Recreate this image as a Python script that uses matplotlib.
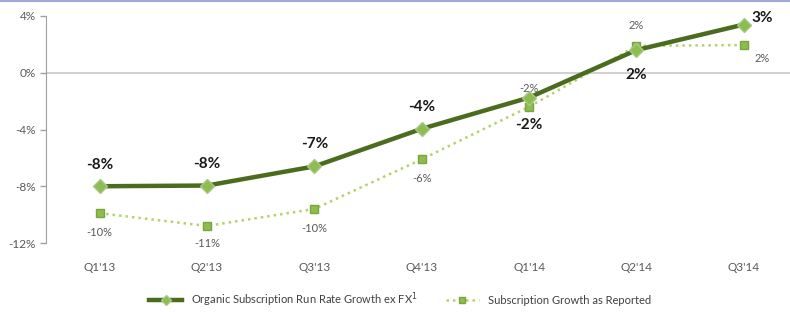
import matplotlib.pyplot as plt
from matplotlib.lines import Line2D

plt.rcParams["font.family"] = ["Lato", "DejaVu Sans"]

# ---- data ----
quarters = ["Q1'13", "Q2'13", "Q3'13", "Q4'13", "Q1'14", "Q2'14", "Q3'14"]
organic = [-8.0, -7.95, -6.6, -3.95, -1.75, 1.6, 3.4]
organic_labels = ["-8%", "-8%", "-7%", "-4%", "-2%", "2%", "3%"]
reported = [-9.9, -10.8, -9.6, -6.1, -2.4, 1.9, 1.95]
reported_labels = ["-10%", "-11%", "-10%", "-6%", "-2%", "2%", "2%"]
yticks = [4, 0, -4, -8, -12]

DARK = "#4b6b1e"
LIGHT = "#8cbd4e"
DOT = "#b3d36a"
GREY = "#595959"

fig = plt.figure(figsize=(7.9, 3.12), dpi=100)
ax = fig.add_axes([46 / 790, 69 / 312, 1 - 46 / 790, 227 / 312])
x = list(range(len(quarters)))

ax.axhline(0, color="#c8c8c8", lw=1.2, zorder=1)

ax.plot(x, reported, ls=(0, (1, 1.6)), color=DOT, lw=1.8, marker="s", ms=6,
        mfc=LIGHT, mec="#7aa53c", zorder=2)
ax.plot(x, organic, color=DARK, lw=3.2, marker="D", ms=7,
        mfc=LIGHT, mec="#a6c98a", zorder=3)

# labels for the bold series
org_off = [(0, 15.5), (0, 15.5), (0, 16), (0, 16), (0, -20), (0, -18), (13, 5)]
for xi, yi, lab, (dx, dy) in zip(x, organic, organic_labels, org_off):
    ax.annotate(lab, (xi, yi), xytext=(dx, dy), textcoords="offset points",
                ha="center", va="center", fontsize=11, fontweight="bold",
                color="#1a1a1a")

rep_off = [(0, -14), (0, -12.5), (0, -14), (0, -14), (0, 13), (0, 14.5), (13, -9.5)]
for xi, yi, lab, (dx, dy) in zip(x, reported, reported_labels, rep_off):
    ax.annotate(lab, (xi, yi), xytext=(dx, dy), textcoords="offset points",
                ha="center", va="center", fontsize=8, color=GREY)

ax.set_xlim(-0.5, 6.43)
ax.set_ylim(-12, 4)
ax.set_yticks(yticks)
ax.set_yticklabels([f"{t}%" for t in yticks])
ax.set_xticks(x)
ax.set_xticklabels(quarters)
ax.tick_params(axis="x", length=0, pad=14, labelsize=8.5, labelcolor=GREY)
ax.tick_params(axis="y", length=4, width=1, color="#a0a0a0", labelsize=8.5,
               labelcolor=GREY, direction="out")
for side in ("top", "right", "bottom"):
    ax.spines[side].set_visible(False)
ax.spines["left"].set_color("#a0a0a0")

handles = [
    Line2D([], [], color=DARK, lw=3.2, marker="D", ms=5, mfc=LIGHT, mec="#a6c98a"),
    Line2D([], [], color=DOT, lw=1.8, ls=(0, (1, 1.6)), marker="s", ms=5,
           mfc=LIGHT, mec="#7aa53c"),
]
fig.legend(handles, ["Organic Subscription Run Rate Growth ex FX$^1$",
                     "Subscription Growth as Reported"],
           loc="center", bbox_to_anchor=(400 / 790, 1 - 300 / 312), ncol=2,
           frameon=False, fontsize=8, handlelength=3, columnspacing=2.5,
           labelcolor="#404040")

fig.add_artist(Line2D([0, 1], [0.997, 0.997], color="#9fa8d8", lw=1.5))

fig.savefig("out.png", dpi=100)
